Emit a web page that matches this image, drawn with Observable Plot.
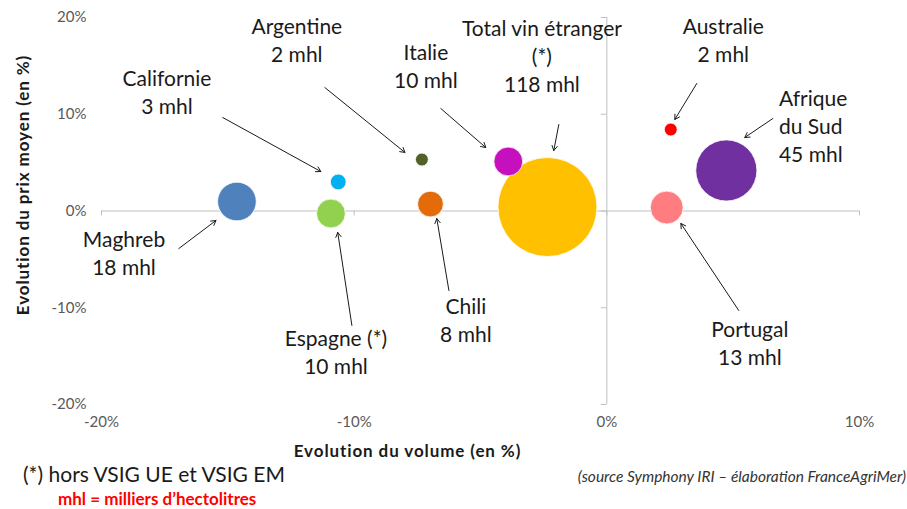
<!DOCTYPE html>
<html><head><meta charset="utf-8">
<script src="https://cdn.jsdelivr.net/npm/d3@7"></script>
<script src="https://cdn.jsdelivr.net/npm/@observablehq/plot@0.6"></script>
<style>
body{margin:0;background:#fff;font-family:Lato,"Open Sans",sans-serif;}
#wrap{position:relative;width:907px;height:509px;overflow:hidden;}
.note{position:absolute;white-space:nowrap;line-height:1;}
</style></head><body><div id="wrap"></div>
<script>
// ---- data ----
const names        = ["Total vin étranger", "Afrique du Sud", "Maghreb", "Portugal", "Italie", "Espagne", "Chili", "Californie", "Argentine", "Australie"];
const volumeChange = [-2.35, 4.73, -14.64, 2.37, -3.90, -10.92, -6.98, -10.63, -7.32, 2.53];
const priceChange  = [0.41, 4.19, 0.98, 0.36, 5.12, -0.26, 0.72, 3.00, 5.32, 8.42];
const volumesMhl   = [118, 45, 18, 13, 10, 10, 8, 3, 2, 2];
const colors       = ["#ffc000", "#7030a0", "#4f81bd", "#ff7c80", "#c710bd", "#92d050", "#e36c09", "#00b0f0", "#4f6228", "#ff0000"];
const xTicks = [-20, -10, 0, 10];
const yTicks = [-20, -10, 0, 10, 20];

// annotations (label text, label anchor and arrow in data units)
const annText   = ["Californie\n3 mhl", "Argentine\n2 mhl", "Italie\n10 mhl", "Total vin étranger\n(*)\n118 mhl", "Australie\n2 mhl", "Afrique\ndu Sud\n45 mhl", "Maghreb\n18 mhl", "Espagne (*)\n10 mhl", "Chili\n8 mhl", "Portugal\n13 mhl"];
const annX      = [-17.41, -12.27, -7.16, -2.57, 4.61, 6.81, -19.11, -10.72, -5.58, 5.66];
const annY      = [12.40, 17.73, 15.09, 16.12, 17.73, 8.84, -4.29, -14.47, -11.21, -13.54];
const annAnchor = ["middle", "middle", "middle", "middle", "middle", "start", "middle", "middle", "middle", "middle"];
const arrX1 = [-15.20, -11.16, -6.57, -1.90, 3.56, 6.57, -16.94, -10.09, -6.25, 5.22];
const arrY1 = [9.66, 12.76, 10.59, 8.94, 13.18, 9.56, -3.88, -11.83, -8.22, -10.28];
const arrX2 = [-11.32, -7.99, -4.79, -2.10, 2.69, 5.46, -15.47, -10.65, -6.73, 2.93];
const arrY2 = [4.08, 6.05, 6.56, 6.25, 9.46, 7.60, -0.98, -2.22, -0.78, -1.29];

const bubbles = names.map((n, i) => ({name: n, x: volumeChange[i], y: priceChange[i], v: volumesMhl[i], c: colors[i]}));
const anns = annText.map((t, i) => ({t, x: annX[i], y: annY[i], a: annAnchor[i], x1: arrX1[i], y1: arrY1[i], x2: arrX2[i], y2: arrY2[i]}));

const W = 907, H = 509;
const font = "Lato, 'Open Sans', sans-serif";
const plot = Plot.plot({
  width: W, height: H,
  marginLeft: 101, marginRight: 48, marginTop: 17, marginBottom: 105,
  style: {fontFamily: font, color: "#595959", background: "white"},
  x: {domain: [-20, 10], label: null},
  y: {domain: [-20, 20], label: null},
  r: {domain: [0, 118], range: [0, 49.5], type: "sqrt"},
  marks: [
    Plot.axisY({ticks: yTicks, tickFormat: d => d + "%", tickSize: 0, tickPadding: 15, fontSize: 15, label: null}),
    Plot.axisX({ticks: xTicks, tickFormat: d => d + "%", tickSize: 0, tickPadding: 12, fontSize: 15, label: null, anchor: "bottom"}),
    Plot.ruleY([0], {x1: -20, x2: 10, stroke: "#bfbfbf", strokeWidth: 1}),
    Plot.ruleX([0], {y1: -20, y2: 20, stroke: "#bfbfbf", strokeWidth: 1}),
    Plot.ruleX(xTicks, {x: d => d, y1: 0, y2: -0.5, stroke: "#bfbfbf"}),
    Plot.ruleY(yTicks, {y: d => d, x1: -0.22, x2: 0, stroke: "#bfbfbf"}),
    Plot.dot(bubbles, {x: "x", y: "y", r: "v", fill: "c", stroke: "white", strokeWidth: 0.8, sort: {channel: "r", order: "descending"}}),
    Plot.arrow(anns, {x1: "x1", y1: "y1", x2: "x2", y2: "y2", stroke: "#1a1a1a", strokeWidth: 1, headLength: 8, insetStart: 0, insetEnd: 0}),
    Plot.text(anns, {x: "x", y: "y", text: "t", textAnchor: "start", filter: d => d.a === "start", fontSize: 21, fill: "#1a1a1a", lineHeight: 1.33, lineAnchor: "middle"}),
    Plot.text(anns, {x: "x", y: "y", text: "t", filter: d => d.a === "middle", fontSize: 21, fill: "#1a1a1a", lineHeight: 1.33, lineAnchor: "middle"}),
    Plot.text(["Evolution du prix moyen (en %)"], {frameAnchor: "left", textAnchor: "middle", dx: -78, dy: -26, rotate: -90, fontSize: 17, fontWeight: "bold", fill: "#1a1a1a"}),
    Plot.text(["Evolution du volume (en %)"], {frameAnchor: "bottom", textAnchor: "middle", lineAnchor: "middle", dx: -73, dy: 47, fontSize: 17, fontWeight: "bold", fill: "#1a1a1a"})
  ]
});
const wrap = document.getElementById("wrap");
wrap.appendChild(plot);
plot.querySelectorAll("text").forEach(t => {
  if (t.textContent.startsWith("Evolution")) t.setAttribute("letter-spacing", "0.9");
});

function note(text, css) {
  const d = document.createElement("div");
  d.className = "note";
  d.textContent = text;
  Object.assign(d.style, css);
  wrap.appendChild(d);
}
note("(*) hors VSIG UE et VSIG EM", {left: "23px", top: "463px", fontSize: "21px", color: "#1a1a1a"});
note("mhl = milliers d\u2019hectolitres", {left: "58px", top: "490px", fontSize: "17px", fontWeight: "bold", color: "#ff0000"});
note("(source Symphony IRI \u2013 élaboration FranceAgriMer)", {right: "1px", top: "469px", fontSize: "15.5px", fontStyle: "italic", color: "#333"});
</script></body></html>
